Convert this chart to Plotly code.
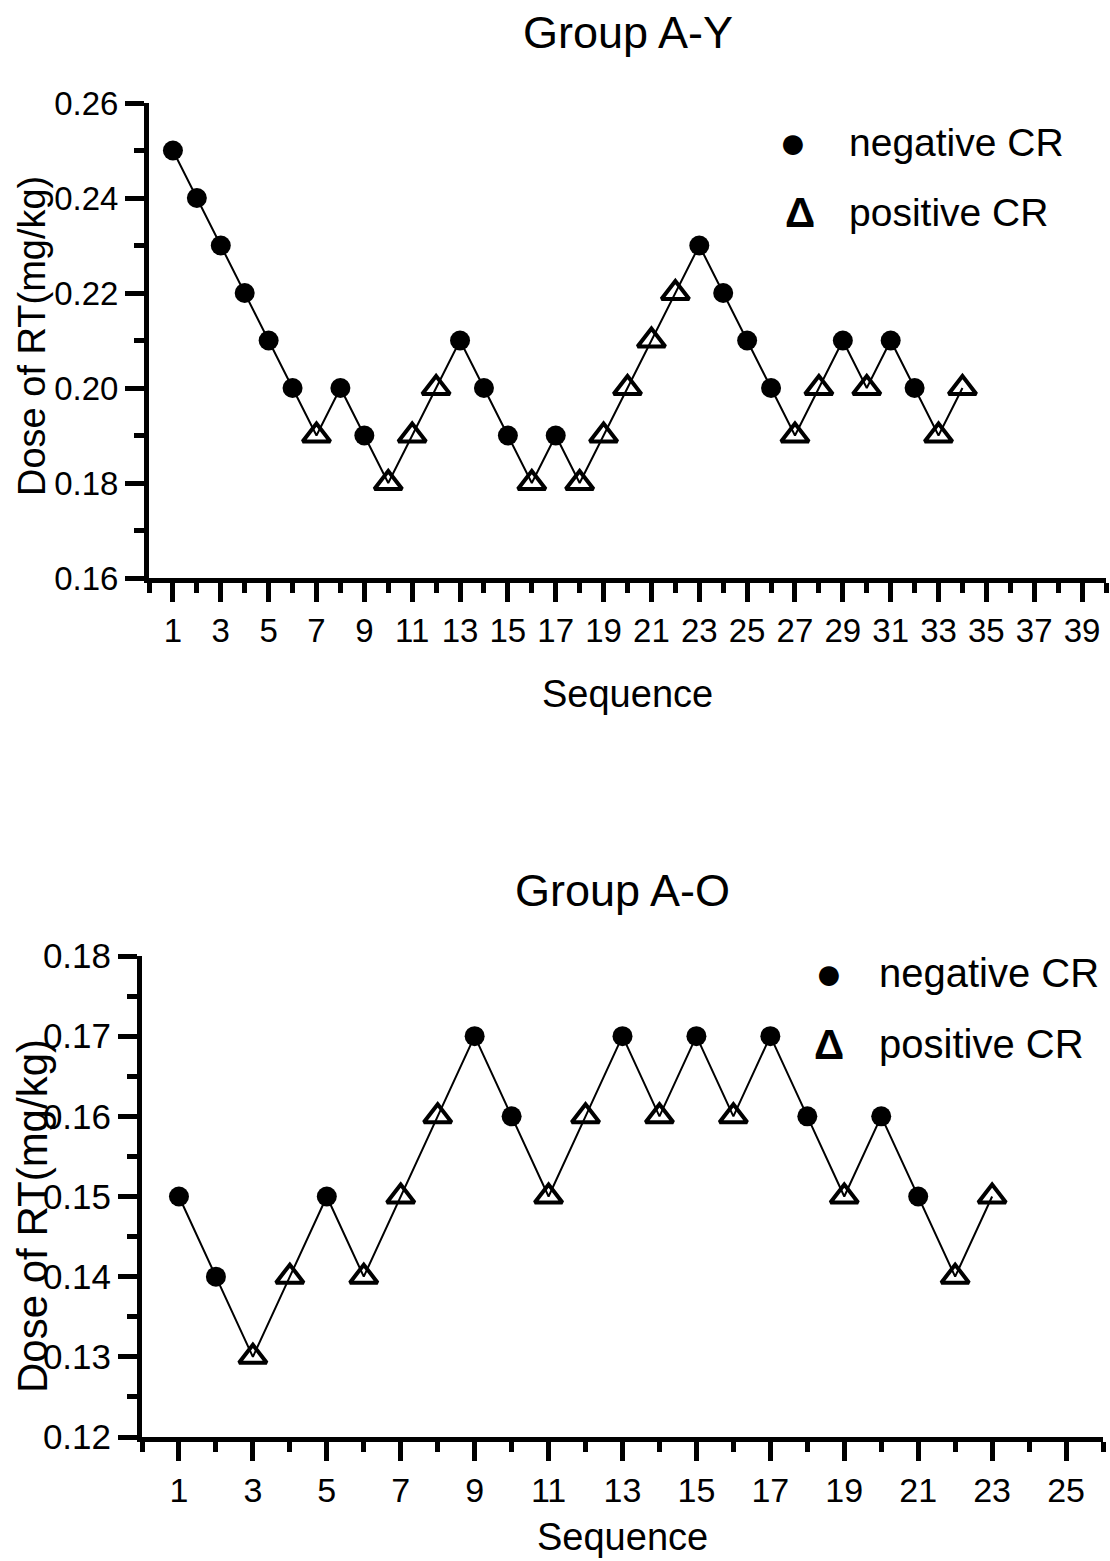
import plotly.graph_objects as go

# ---------------- data ----------------
seq_ay = list(range(1, 35))
dose_ay = [0.25, 0.24, 0.23, 0.22, 0.21, 0.20, 0.19, 0.20, 0.19, 0.18,
           0.19, 0.20, 0.21, 0.20, 0.19, 0.18, 0.19, 0.18, 0.19, 0.20,
           0.21, 0.22, 0.23, 0.22, 0.21, 0.20, 0.19, 0.20, 0.21, 0.20,
           0.21, 0.20, 0.19, 0.20]
cr_ay = ["N", "N", "N", "N", "N", "N", "P", "N", "N", "P",
         "P", "P", "N", "N", "N", "P", "N", "P", "P", "P",
         "P", "P", "N", "N", "N", "N", "P", "P", "N", "P",
         "N", "N", "P", "P"]

seq_ao = list(range(1, 24))
dose_ao = [0.15, 0.14, 0.13, 0.14, 0.15, 0.14, 0.15, 0.16, 0.17, 0.16,
           0.15, 0.16, 0.17, 0.16, 0.17, 0.16, 0.17, 0.16, 0.15, 0.16,
           0.15, 0.14, 0.15]
cr_ao = ["N", "N", "P", "P", "N", "P", "P", "P", "N", "N",
         "P", "P", "N", "P", "N", "P", "N", "N", "P", "N",
         "N", "P", "P"]

titles = ["Group A-Y", "Group A-O"]
x_title = "Sequence"
y_title = "Dose of RT(mg/kg)"
legend_labels = ["negative CR", "positive CR"]

W, H = 1110, 1561
FONT = "Liberation Sans, Arial, sans-serif"


def px(x):
    return x / W


def py(y):
    return 1 - y / H


fig = go.Figure()


def add_series(seq, dose, cr, xa, ya):
    fig.add_trace(go.Scatter(x=seq, y=dose, mode="lines",
                             line=dict(color="black", width=2),
                             xaxis=xa, yaxis=ya, showlegend=False,
                             hoverinfo="skip"))
    nx = [s for s, c in zip(seq, cr) if c == "N"]
    ny = [d for d, c in zip(dose, cr) if c == "N"]
    pxs = [s for s, c in zip(seq, cr) if c == "P"]
    pys = [d for d, c in zip(dose, cr) if c == "P"]
    fig.add_trace(go.Scatter(x=nx, y=ny, mode="markers", name=legend_labels[0],
                             marker=dict(symbol="circle", size=20, color="black"),
                             xaxis=xa, yaxis=ya, showlegend=False))
    fig.add_trace(go.Scatter(x=pxs, y=pys, mode="markers", name=legend_labels[1],
                             marker=dict(symbol="triangle-up-open", size=24,
                                         color="black",
                                         line=dict(color="black", width=4)),
                             xaxis=xa, yaxis=ya, showlegend=False))


add_series(seq_ay, dose_ay, cr_ay, "x", "y")
add_series(seq_ao, dose_ao, cr_ao, "x2", "y2")


def axis(size, **kw):
    d = dict(showline=True, linecolor="black", linewidth=5,
             ticks="outside", tickcolor="black", tickwidth=5, ticklen=19,
             showgrid=False, zeroline=False, automargin=False,
             ticklabelstandoff=0,
             tickfont=dict(family=FONT, size=size, color="black"))
    d.update(kw)
    return d


def minor(dt, t0):
    return dict(dtick=dt, tick0=t0, ticks="outside", ticklen=10,
                tickwidth=5, tickcolor="black", showgrid=False)


fig.update_layout(
    width=W, height=H,
    margin=dict(l=0, r=0, t=0, b=0),
    paper_bgcolor="white", plot_bgcolor="white",
    showlegend=False,
    font=dict(family=FONT, color="black"),
    xaxis=axis(33, domain=[px(149), px(1106)], range=[0, 40], anchor="y",
               tick0=1, dtick=2, minor=minor(1, 0)),
    yaxis=axis(33, domain=[py(578), py(103)], range=[0.16, 0.26], anchor="x",
               dtick=0.02, tick0=0.16, tickformat=".2f", minor=minor(0.01, 0.16)),
    xaxis2=axis(34, domain=[px(142), px(1103)], range=[0, 26], anchor="y2",
                tick0=1, dtick=2, minor=minor(1, 0)),
    yaxis2=axis(35, domain=[py(1437), py(956)], range=[0.12, 0.18], anchor="x2",
                dtick=0.01, tick0=0.12, tickformat=".2f", minor=minor(0.005, 0.12)),
)

ann = []


def text(x, y, s, size, angle=0, xanchor="center"):
    ann.append(dict(x=px(x), y=py(y), xref="paper", yref="paper", text=s,
                    showarrow=False, xanchor=xanchor, yanchor="middle",
                    textangle=angle,
                    font=dict(family=FONT, size=size, color="black")))


# titles
text(628, 33, titles[0], 45)
text(622, 890, titles[1], 45)
# x titles
text(627, 694, x_title, 38)
text(622, 1537, x_title, 38)
# y titles
text(32, 336, y_title, 38, angle=-90)
text(32, 1216, y_title, 42, angle=-90)

# legends (top)
text(793, 142, "●", 46)
text(847, 142, legend_labels[0], 39, xanchor="left")
text(800, 212, "<b>Δ</b>", 42)
text(847, 212, legend_labels[1], 39, xanchor="left")
# legends (bottom)
text(829, 973, "●", 46)
text(877, 973, legend_labels[0], 40, xanchor="left")
text(829, 1044, "<b>Δ</b>", 42)
text(877, 1044, legend_labels[1], 40, xanchor="left")

fig.update_layout(annotations=ann)

fig.write_html("out.html")
